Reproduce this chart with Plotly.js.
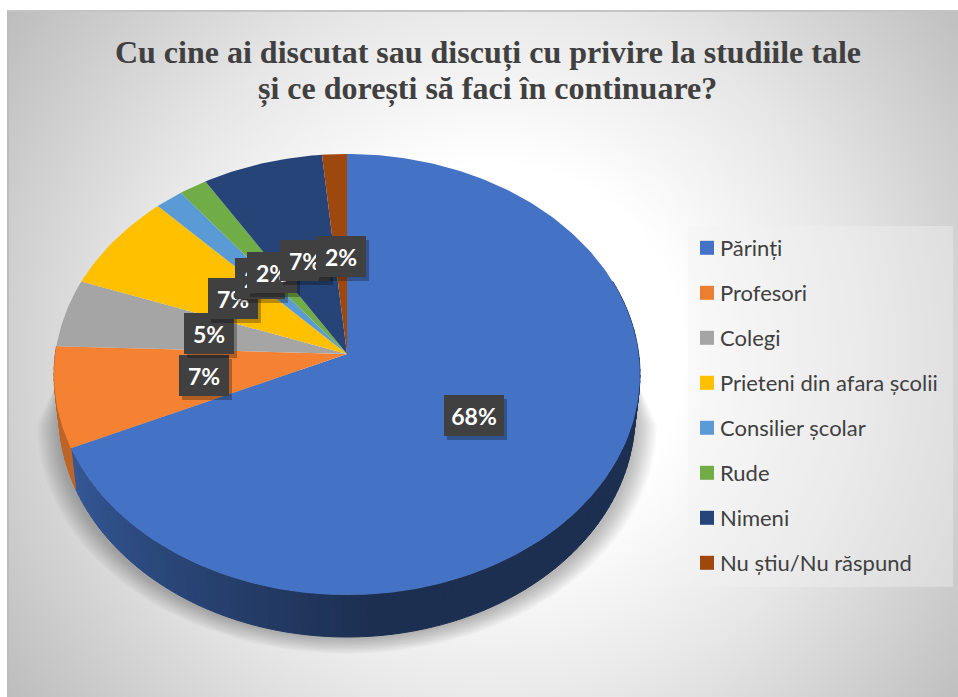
<!DOCTYPE html>
<html><head><meta charset="utf-8">
<script src="https://cdn.plot.ly/plotly-3.0.1.min.js"></script>
<style>
html,body{margin:0;padding:0;background:#fff;overflow:hidden}
#bg{position:absolute;left:7px;top:10px;right:0;bottom:0;box-sizing:border-box;border-left:2px solid #bdbdbd;border-top:2px solid #c4c4c4;
background:radial-gradient(circle farthest-corner at 51% 50%,#fff 0%,#fff 32%,#e6e6e6 62%,#bdbdbd 100%)}
#chart{position:absolute;left:0;top:0;width:958px;height:697px}
</style></head><body><div id="bg"></div><div id="chart"></div>
<script>
// data
const categories=["Părinți","Profesori","Colegi","Prieteni din afara școlii","Consilier școlar","Rude","Nimeni","Nu știu/Nu răspund"];
const values=[68.4,7.4,5,7.3,1.7,1.7,7.3,1.5];
const colors=["#4472c4","#ed7d31","#a5a5a5","#ffc000","#5b9bd5","#70ad47","#264478","#9e480e"];
const faceColors=["#4472c4","#f58233","#a5a5a5","#ffc000","#5b9bd5","#70ad47","#264478","#9e480e"];
const titleLines=["Cu cine ai discutat sau discuți cu privire la studiile tale","și ce dorești să faci în continuare?"];

// geometry of the tilted pie, in pixels of the 958x697 page
const CX=347,AY=354,K=0.093,A=291.7,B=218.6,S=0.983,DY=40,EY=374.5,WY=1.009;
const rad=d=>d*Math.PI/180;
function topPt(t,r){r=r===undefined?1:r;const u=Math.sin(rad(t)),v=Math.cos(rad(t)),w=1+K*v;return [CX+r*A*u/w,AY-r*B*v/w];}
function lowPt(t){const p=topPt(t);return [CX+(p[0]-CX)*S,EY+DY+(p[1]-EY)*WY];}
function rgb(hex,f){const n=parseInt(hex.slice(1),16);return `rgb(${Math.round((n>>16)*f)},${Math.round(((n>>8)&255)*f)},${Math.round((n&255)*f)})`;}
const total=values.reduce((a,b)=>a+b,0);
const bounds=[0];values.forEach(v=>bounds.push(bounds[bounds.length-1]+v/total*360));

const traces=[];
const poly=(pts,col,line)=>traces.push({type:'scatter',mode:'lines',x:pts.map(p=>p[0]),y:pts.map(p=>p[1]),fill:'toself',fillcolor:col,
  line:{width:line?1:0,color:col},hoverinfo:'skip',showlegend:false});

// soft shadow under the pie
for(let i=12;i>=1;i--){const pts=[[CX+285,370]];for(let t=90;t<=270;t+=3){const s=Math.sin(rad(t)),c=Math.cos(rad(t));
  pts.push([CX+(287+i*1.9)*s,425-(212+i*1.4)*c]);}
  pts.push([CX-285,370]);
  poly(pts,'rgba(0,0,0,0.022)',false);}

// side wall, shaded in narrow strips
const STEP=1.5;
function wall(a,b,col,shade){for(let t=a;t<b;t+=STEP){const e=Math.min(t+STEP,b),f=shade((t+e)/2),pts=[];
  pts.push(topPt(t));pts.push(topPt(e));pts.push(lowPt(e));pts.push(lowPt(t));pts.push(topPt(t));
  poly(pts,rgb(col,f),true);}}
wall(70,bounds[1],colors[0],t=>t<175?0.41:0.41+(t-175)/(bounds[1]-175)*0.36);
wall(bounds[1],bounds[2],colors[1],t=>0.8);

// top faces
values.forEach((v,i)=>{const pts=[[CX,AY]];for(let t=bounds[i];t<bounds[i+1];t+=1)pts.push(topPt(t));pts.push(topPt(bounds[i+1]));pts.push([CX,AY]);poly(pts,faceColors[i],false);});

// legend entries
categories.forEach((c,i)=>traces.push({type:'scatter',mode:'markers',x:[null],y:[null],name:c,legendgroup:c,
  marker:{symbol:'square',size:14,color:colors[i]},hoverinfo:'skip',showlegend:true}));

// data labels at half radius
const annotations=[{x:487,y:88,xref:'x',yref:'y',text:titleLines[1],showarrow:false,font:{family:'Liberation Serif',size:32,color:'#404040',weight:700}}];
values.forEach((v,i)=>{const p=topPt((bounds[i]+bounds[i+1])/2,0.49),w=i===0?60:50;
  annotations.push({x:p[0],y:p[1],xref:'x',yref:'y',text:' ',showarrow:false,width:w,height:41,borderpad:0,borderwidth:0,bgcolor:'rgba(0,0,0,0.28)',xshift:3,yshift:-4});
  annotations.push({x:p[0],y:p[1],xref:'x',yref:'y',text:Math.round(v)+'%',showarrow:false,width:w,height:41,borderpad:0,borderwidth:0,bgcolor:'#404040',
    font:{family:'Lato',size:23,color:'#fff',weight:700}});
});

const layout={width:958,height:697,margin:{l:0,r:0,t:0,b:0},paper_bgcolor:'rgba(0,0,0,0)',plot_bgcolor:'rgba(0,0,0,0)',
 title:{text:titleLines[0],font:{family:'Liberation Serif',size:32,color:'#404040',weight:700},x:488/958,xanchor:'center',y:1-52/697,yanchor:'middle'},
 xaxis:{range:[0,958],visible:false,fixedrange:true},yaxis:{range:[697,0],visible:false,fixedrange:true},
 shapes:[{type:'rect',xref:'x',yref:'y',x0:688,x1:953,y0:226,y1:587,line:{width:0},fillcolor:'rgba(242,242,242,0.39)',layer:'below'}],
 annotations,
 showlegend:true,
 legend:{x:687/958,y:1-227/697,xanchor:'left',yanchor:'top',bgcolor:'rgba(0,0,0,0)',borderwidth:0,tracegroupgap:13.4,indentation:-7,itemclick:false,itemdoubleclick:false,
   font:{family:'Lato',size:22,color:'#404040'}}
};
Plotly.newPlot('chart',traces,layout,{displayModeBar:false,staticPlot:true}).then(()=>{
  // legend swatches sit closer to their text in the reference
  document.querySelectorAll('#chart .legend .legendpoints').forEach(g=>g.setAttribute('transform','translate(7,0)'));
});
</script></body></html>
